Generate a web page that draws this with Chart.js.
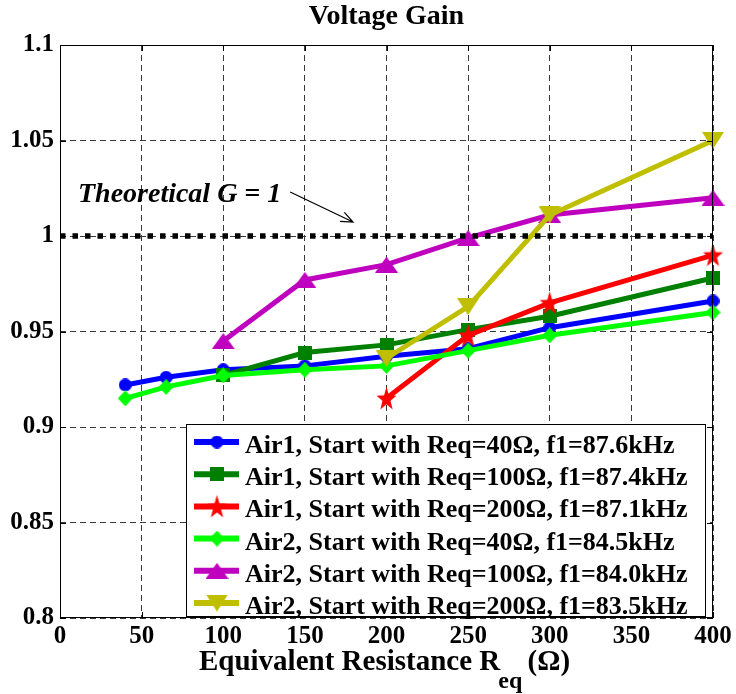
<!DOCTYPE html>
<html>
<head>
<meta charset="utf-8">
<title>Voltage Gain</title>
<script src="https://cdn.jsdelivr.net/npm/chart.js@4.4.1/dist/chart.umd.min.js"></script>
<style>
  html, body { margin: 0; padding: 0; background: #fff; }
  #wrap { width: 736px; height: 694px; }
</style>
</head>
<body>
<div id="wrap"><canvas id="gainChart" width="736" height="694"></canvas></div>
<script>
// --- data ---
const reqAir1_40 = [40, 65, 100, 150, 200, 250, 300, 400];
const gainAir1_40 = [0.922, 0.926, 0.930, 0.932, 0.937, 0.941, 0.952, 0.966];

const reqAir1_100 = [100, 150, 200, 250, 300, 400];
const gainAir1_100 = [0.927, 0.939, 0.943, 0.951, 0.958, 0.978];

const reqAir1_200 = [200, 250, 300, 400];
const gainAir1_200 = [0.915, 0.948, 0.965, 0.990];

const reqAir2_40 = [40, 65, 100, 150, 200, 250, 300, 400];
const gainAir2_40 = [0.915, 0.921, 0.927, 0.930, 0.932, 0.940, 0.948, 0.960];

const reqAir2_100 = [100, 150, 200, 250, 300, 400];
const gainAir2_100 = [0.945, 0.977, 0.985, 0.999, 1.011, 1.020];

const reqAir2_200 = [200, 250, 300, 400];
const gainAir2_200 = [0.936, 0.963, 1.011, 1.050];

const theoryReq = [0, 400];
const theoryGain = [1, 1];

const seriesLabels = [
  'Air1, Start with Req=40\u03A9, f1=87.6kHz',
  'Air1, Start with Req=100\u03A9, f1=87.4kHz',
  'Air1, Start with Req=200\u03A9, f1=87.1kHz',
  'Air2, Start with Req=40\u03A9, f1=84.5kHz',
  'Air2, Start with Req=100\u03A9, f1=84.0kHz',
  'Air2, Start with Req=200\u03A9, f1=83.5kHz'
];

const reqTicks = [0, 50, 100, 150, 200, 250, 300, 350, 400];
const gainTicks = [0.8, 0.85, 0.9, 0.95, 1, 1.05, 1.1];
const gainTickLabels = ['0.8', '0.85', '0.9', '0.95', '1', '1.05', '1.1'];

const SERIF = '"Liberation Serif", "Times New Roman", serif';

// marker glyphs drawn once on small canvases (MATLAB-like o, s, pentagram, d, ^, v)
function makeMarker(shape, color, w, h) {
  const c = document.createElement('canvas');
  c.width = w; c.height = h;
  const g = c.getContext('2d');
  g.fillStyle = color;
  g.beginPath();
  if (shape === 'circle') {
    g.arc(w / 2, h / 2, w / 2, 0, Math.PI * 2);
  } else if (shape === 'square') {
    g.rect(0, 0, w, h);
  } else if (shape === 'diamond') {
    g.moveTo(w / 2, 0); g.lineTo(w, h / 2); g.lineTo(w / 2, h); g.lineTo(0, h / 2);
  } else if (shape === 'up') {
    g.moveTo(w / 2, 0); g.lineTo(w, h); g.lineTo(0, h);
  } else if (shape === 'down') {
    g.moveTo(0, 0); g.lineTo(w, 0); g.lineTo(w / 2, h);
  } else if (shape === 'star') {
    const cx = w / 2, cy = h / 2 + 1, rx = w / 2, ry = h / 2;
    for (let i = 0; i < 10; i++) {
      const ang = -Math.PI / 2 + i * Math.PI / 5;
      const k = i % 2 === 0 ? 1 : 0.4;
      g.lineTo(cx + Math.cos(ang) * rx * k, cy + Math.sin(ang) * ry * k);
    }
  }
  g.closePath();
  g.fill();
  return c;
}

const toPoints = (xs, ys) => xs.map((x, i) => ({ x: x, y: ys[i] }));

function series(i, xs, ys, color, marker) {
  return {
    label: seriesLabels[i],
    data: toPoints(xs, ys),
    borderColor: color,
    backgroundColor: color,
    borderWidth: 5,
    pointStyle: marker,
    pointRadius: 6,
    tension: 0,
    clip: false,
    order: 10 - i
  };
}

const datasets = [
  series(0, reqAir1_40, gainAir1_40, '#0000ff', makeMarker('circle', '#0000ff', 13, 13)),
  series(1, reqAir1_100, gainAir1_100, '#008000', makeMarker('square', '#008000', 14, 14)),
  series(2, reqAir1_200, gainAir1_200, '#ff0000', makeMarker('star', '#ff0000', 21, 25)),
  series(3, reqAir2_40, gainAir2_40, '#00ff00', makeMarker('diamond', '#00ff00', 15, 16)),
  series(4, reqAir2_100, gainAir2_100, '#bf00bf', makeMarker('up', '#bf00bf', 23, 16)),
  series(5, reqAir2_200, gainAir2_200, '#bfbf00', makeMarker('down', '#bfbf00', 22, 17)),
  {
    label: 'Theoretical G = 1',
    data: toPoints(theoryReq, theoryGain),
    borderColor: '#000',
    borderWidth: 5.5,
    borderDash: [5.5, 7],
    borderCapStyle: 'butt',
    pointRadius: 0,
    clip: false,
    order: 0,
    hideInLegend: true
  }
];

// title, frame, inner ticks, annotation, legend and x title with subscript
const decorations = {
  id: 'decorations',
  afterDraw(chart) {
    const { ctx, chartArea: a, scales: { x, y } } = chart;
    const midX = (a.left + a.right) / 2;
    ctx.save();
    ctx.setLineDash([]);

    // title centred over the axes box
    ctx.fillStyle = '#000';
    ctx.font = 'bold 28px ' + SERIF;
    ctx.textAlign = 'center';
    ctx.textBaseline = 'alphabetic';
    ctx.fillText('Voltage Gain', midX, a.top - 21);
    ctx.textAlign = 'left';

    // box
    ctx.strokeStyle = '#000';
    ctx.lineWidth = 1;
    ctx.strokeRect(a.left + 0.5, a.top + 0.5, a.width - 1, a.height - 1);

    // tick marks pointing inwards
    const tl = 6;
    ctx.beginPath();
    reqTicks.forEach(v => {
      const px = Math.round(x.getPixelForValue(v)) + 0.5;
      ctx.moveTo(px, a.bottom); ctx.lineTo(px, a.bottom - tl);
      ctx.moveTo(px, a.top); ctx.lineTo(px, a.top + tl);
    });
    gainTicks.forEach(v => {
      const py = Math.round(y.getPixelForValue(v)) + 0.5;
      ctx.moveTo(a.left, py); ctx.lineTo(a.left + tl, py);
      ctx.moveTo(a.right, py); ctx.lineTo(a.right - tl, py);
    });
    ctx.stroke();

    // "Theoretical G = 1" note with arrow
    ctx.font = 'italic bold 28px ' + SERIF;
    ctx.fillText('Theoretical G = 1', x.getPixelForValue(11), y.getPixelForValue(1.0178));
    const ax0 = x.getPixelForValue(141), ay0 = y.getPixelForValue(1.023);
    const ax1 = x.getPixelForValue(179.5), ay1 = y.getPixelForValue(1.0073);
    const ang = Math.atan2(ay1 - ay0, ax1 - ax0);
    ctx.lineWidth = 1.2;
    ctx.beginPath();
    ctx.moveTo(ax0, ay0); ctx.lineTo(ax1, ay1);
    ctx.moveTo(ax1 - 13 * Math.cos(ang - 0.4), ay1 - 13 * Math.sin(ang - 0.4));
    ctx.lineTo(ax1, ay1);
    ctx.lineTo(ax1 - 13 * Math.cos(ang + 0.4), ay1 - 13 * Math.sin(ang + 0.4));
    ctx.stroke();

    // legend
    const lw = 520, lh = 193;
    const lx = a.right - 7 - lw, ly = a.bottom - 1 - lh;
    ctx.fillStyle = '#fff';
    ctx.fillRect(lx, ly, lw, lh);
    ctx.strokeStyle = '#000';
    ctx.lineWidth = 1;
    ctx.strokeRect(lx + 0.5, ly + 0.5, lw - 1, lh - 1);
    ctx.font = 'bold 26px ' + SERIF;
    chart.data.datasets.filter(d => !d.hideInLegend).forEach((ds, i) => {
      const cy = ly + 18 + i * 32.2;
      ctx.strokeStyle = ds.borderColor;
      ctx.lineWidth = 6;
      ctx.beginPath();
      ctx.moveTo(lx + 8, cy); ctx.lineTo(lx + 53, cy);
      ctx.stroke();
      const img = ds.pointStyle;
      ctx.drawImage(img, lx + 31 - img.width / 2, cy - img.height / 2);
      ctx.fillStyle = '#000';
      ctx.fillText(ds.label, lx + 59, cy + 11);
    });

    // x axis title: Equivalent Resistance R_eq (Ω)
    const main = 'Equivalent Resistance R', sub = 'eq', tail = ' (\u03A9)';
    const bigFont = 'bold 29px ' + SERIF, subFont = 'bold 24px ' + SERIF;
    ctx.font = bigFont; const w1 = ctx.measureText(main).width, w3 = ctx.measureText(tail).width;
    ctx.font = subFont; const w2 = ctx.measureText(sub).width;
    const total = w1 + w2 + w3 - 4;
    let tx = midX - 2 - total / 2;
    const base = a.bottom + 52;
    ctx.fillStyle = '#000';
    ctx.font = bigFont; ctx.fillText(main, tx, base); tx += w1;
    ctx.font = subFont; ctx.fillText(sub, tx - 2, base + 18); tx += w2 - 4;
    ctx.font = bigFont; ctx.fillText(tail, tx, base);

    ctx.restore();
  }
};

const tickFont = { family: SERIF, size: 25, weight: 'bold' };

new Chart(document.getElementById('gainChart'), {
  type: 'line',
  data: { datasets: datasets },
  options: {
    responsive: false,
    animation: false,
    devicePixelRatio: 1,
    layout: { padding: { left: 0, right: 23, top: 45, bottom: 0 } },
    plugins: {
      legend: { display: false },
      tooltip: { enabled: false },
      title: { display: false }
    },
    scales: {
      x: {
        type: 'linear',
        min: 0,
        max: 400,
        afterBuildTicks: s => { s.ticks = reqTicks.map(v => ({ value: v })); },
        afterFit: s => { s.height = 76; },
        ticks: { font: tickFont, color: '#000', padding: 4, maxRotation: 0, autoSkip: false },
        grid: { color: '#3a3a3a', lineWidth: 1, drawTicks: false },
        border: { display: false, dash: [6, 4] }
      },
      y: {
        type: 'linear',
        min: 0.8,
        max: 1.1,
        afterBuildTicks: s => { s.ticks = gainTicks.map(v => ({ value: v })); },
        afterFit: s => { s.width = 60; },
        ticks: {
          font: tickFont,
          color: '#000',
          padding: 6,
          callback: (v, i) => gainTickLabels[i]
        },
        grid: { color: '#3a3a3a', lineWidth: 1, drawTicks: false },
        border: { display: false, dash: [6, 4] }
      }
    }
  },
  plugins: [decorations]
});
</script>
</body>
</html>
